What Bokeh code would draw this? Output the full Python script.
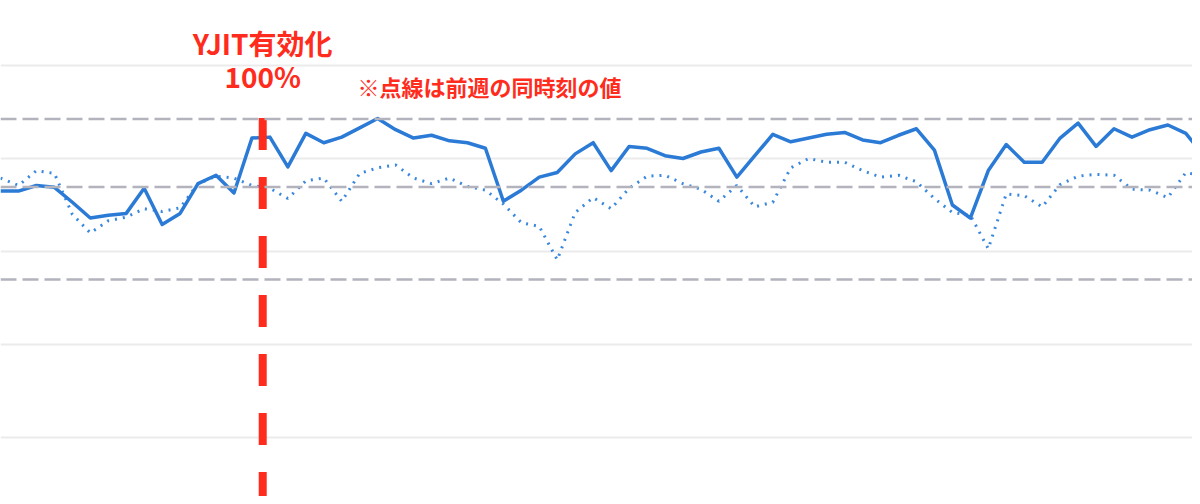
from bokeh.plotting import figure
from bokeh.models import Range1d, FixedTicker, Span
from bokeh.embed import file_html
from bokeh.resources import INLINE
from bokeh.core.properties import value

# --- data -------------------------------------------------------------
time_index = list(range(68))
this_week = [365, 365, 371, 369, 353, 336, 339, 341, 368, 329,
             341, 373, 382, 363, 422, 423, 391, 427, 417, 423,
             433, 443, 431, 422, 425, 419, 417, 411, 354, 366,
             380, 385, 405, 417, 387, 413, 411, 403, 400, 407,
             411, 380, 403, 426, 418, 422, 426, 428, 420, 417,
             425, 432, 409, 350, 336, 387, 415, 396, 396, 422,
             438, 413, 432, 423, 431, 436, 427, 403]
last_week = [379, 371, 387, 384, 340, 320, 333, 337, 346, 343,
             347, 373, 381, 379, 371, 368, 357, 376, 379, 354,
             384, 390, 393, 379, 373, 379, 370, 366, 351, 331,
             327, 291, 342, 358, 346, 368, 381, 382, 373, 367,
             354, 371, 348, 353, 390, 400, 396, 396, 387, 380,
             382, 375, 357, 342, 339, 303, 362, 360, 348, 372,
             381, 383, 382, 367, 366, 358, 385, 381]
grid_levels = [100, 200, 300, 400, 500]
reference_levels = [442.5, 369.4, 269.9]
yjit_enabled_at = 14.6
yjit_labels = ["YJIT有効化", "100%"]
note_label = "※点線は前週の同時刻の値"

# --- styling ----------------------------------------------------------
RED = "#ff2b1c"
BLUE = "#2b7bd6"
FONT = value("Noto Sans CJK JP")

x_range = Range1d(0.0, 66.37)
y_range = Range1d(36.6, 569.9)

p = figure(width=1192, height=496, x_range=x_range, y_range=y_range,
           output_backend="svg", toolbar_location=None,
           x_axis_location=None, y_axis_location=None,
           min_border=0, outline_line_color=None,
           background_fill_color="white", border_fill_color="white")

p.xgrid.visible = False
p.ygrid.ticker = FixedTicker(ticks=grid_levels)
p.ygrid.grid_line_color = "#ebebeb"
p.ygrid.grid_line_width = 2

for lvl in reference_levels:
    p.add_layout(Span(location=lvl, dimension="width", line_color="#b3b3be",
                      line_width=2.5, line_dash="16 6"))

p.line(time_index, last_week, line_color="#3a88de", line_width=3,
       line_dash="2 6")
p.line(time_index, this_week, line_color=BLUE, line_width=3.5,
       line_join="round")

p.segment(x0=[yjit_enabled_at], y0=[443.5], x1=[yjit_enabled_at],
          y1=[y_range.start], line_color=RED, line_width=8,
          line_dash="32 27")

p.text(x=[yjit_enabled_at, yjit_enabled_at], y=[524.7, 489.2],
       text=yjit_labels, text_font=FONT, text_font_style="bold",
       text_font_size="28px", text_color=RED, text_align="center",
       text_baseline="alphabetic")

p.text(x=[19.88], y=[477.5], text=[note_label], text_font=FONT,
       text_font_style="bold", text_font_size="22px", text_color=RED,
       text_align="left", text_baseline="alphabetic")

open("out.html", "w").write(file_html(p, INLINE))
